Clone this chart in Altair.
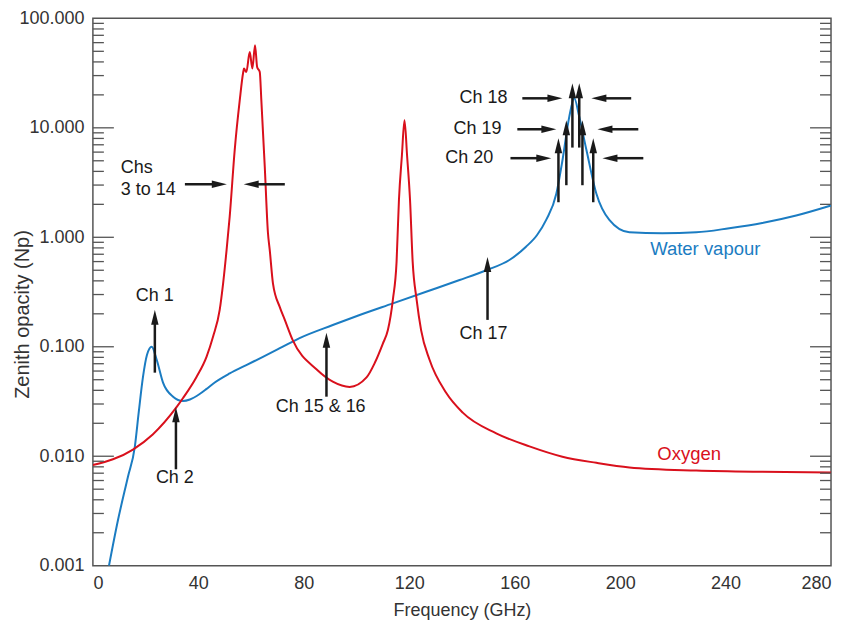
import altair as alt
import pandas as pd

# ---------------- data ----------------
wv_freq = [6.1, 9.5, 13.3, 15.9, 17.4, 19.0, 20.5, 22.3, 24.2, 26.6, 30.4, 34.2, 36.8,
           40.5, 43.0, 45.6, 51.9, 58.2, 64.5, 70.9, 78.4, 91.0, 101.2, 113.8, 126.4, 139.1,
           149.2, 158.0, 164.3, 168.5, 172.0, 175.8, 178.1, 180.7, 182.6, 184.5, 187.2,
           191.0, 195.9, 203.5, 216.0, 228.9, 241.4, 253.9, 266.8, 280.0]
wv_opacity = [0.0010, 0.0026, 0.0065, 0.0122, 0.0254, 0.053, 0.084, 0.100, 0.076, 0.047,
              0.035, 0.032, 0.033, 0.037, 0.041, 0.046, 0.057, 0.068, 0.081, 0.097, 0.120,
              0.158, 0.195, 0.249, 0.318, 0.407, 0.50, 0.62, 0.82, 1.05, 1.45, 2.5, 5.0,
              12.6, 18.6, 12.6, 6.3, 2.5, 1.44, 1.11, 1.09, 1.11, 1.21, 1.35, 1.58, 1.95]

ox_freq = [0.0, 15.2, 22.7, 31.8, 34.2, 39.3, 43.1, 45.6, 48.1, 49.4, 50.7, 51.9, 53.8,
           55.7, 57.0, 57.3, 58.2, 59.5, 60.5, 61.5, 62.3, 63.3, 63.9, 65.2, 66.4, 67.1,
           68.3, 70.9, 72.8, 75.8, 84.9, 91.0, 97.4, 103.8, 106.9, 110.0, 111.9, 113.8,
           115.2, 116.1, 117.2, 118.2, 119.2, 120.3, 121.3, 122.8, 124.5, 127.7, 134.0,
           140.3, 153.0, 165.6, 178.1, 191.0, 203.5, 228.9, 253.9, 280.0]
ox_opacity = [0.0083, 0.0115, 0.0158, 0.0282, 0.034, 0.053, 0.081, 0.124, 0.217, 0.38,
              0.76, 1.55, 6.3, 17.8, 32.0, 34.8, 32.3, 49.2, 34.8, 56.8, 36.0, 32.4, 17.8,
              4.4, 1.1, 0.76, 0.38, 0.23, 0.176, 0.115, 0.062, 0.048, 0.043, 0.0525, 0.071,
              0.107, 0.142, 0.27, 0.6, 2.2, 5.5, 11.7, 5.5, 2.2, 0.6, 0.27, 0.142, 0.076,
              0.038, 0.025, 0.0162, 0.0123, 0.0099, 0.0087, 0.0079, 0.0074, 0.0072, 0.0071]

# vertical (upward) arrows: frequency, tail opacity, tip opacity
up_x = [23.5, 31.5, 88.6, 149.7, 176.6, 179.6, 181.9, 184.5, 185.7, 189.8]
up_tail = [0.058, 0.0076, 0.035, 0.176, 2.09, 2.99, 6.6, 6.6, 2.99, 2.09]
up_tip = [0.218, 0.028, 0.134, 0.66, 8.04, 11.7, 25.5, 25.5, 11.7, 8.04]

# horizontal arrows pointing right: opacity level, tail freq, tip freq
right_y = [3.05, 18.6, 9.7, 5.28]
right_tail = [34.9, 162.9, 161.0, 158.4]
right_tip = [50.8, 178.1, 175.8, 173.9]
# horizontal arrows pointing left
left_y = [3.05, 18.6, 9.7, 5.28]
left_tail = [72.8, 204.2, 206.9, 208.8]
left_tip = [57.2, 189.1, 191.4, 193.3]

# annotation labels
center_text = ["Ch 1", "Ch 2", "Ch 15 & 16", "Ch 17"]
center_x = [23.5, 31.1, 86.4, 148.2]
center_y = [0.291, 0.00635, 0.0282, 0.131]
left_text = ["Chs", "3 to 14"]
left_x = [10.6, 10.6]
left_yv = [4.28, 2.70]
right_text = ["Ch 18", "Ch 19", "Ch 20"]
right_x = [157.3, 155.0, 151.9]
right_yv = [18.6, 9.7, 5.28]

major_ticks = [0.01, 0.1, 1, 10]
minor_ticks = [k * 10.0 ** d for d in range(-3, 2) for k in range(2, 10)]
x_labels = [0, 40, 80, 120, 160, 200, 240, 280]
y_labels = [0.001, 0.01, 0.1, 1, 10, 100]

# ---------------- chart ----------------
W, H = 739, 548
BLUE = "#1b7cc2"
RED = "#d9101c"
INK = "#1a1a1a"
FONT = "Liberation Sans"

xs = alt.Scale(domain=[0, 280], nice=False, zero=False)
ys = alt.Scale(type="log", domain=[0.001, 100], nice=False)

x_axis = alt.Axis(
    values=x_labels, ticks=False, domain=False, grid=False, labelFontSize=18,
    labelColor="#333", labelPadding=9, labelFont=FONT,
    title="Frequency (GHz)", titleFont=FONT, titleFontSize=18, titleFontWeight="normal",
    titleColor="#333", titleY=36, titleBaseline="top")
y_axis = alt.Axis(
    values=y_labels, format=".3f", ticks=False, domain=False,
    grid=False, labelFontSize=18, labelColor="#333", labelPadding=9, labelFont=FONT,
    title="Zenith opacity (Np)", titleFont=FONT, titleFontSize=20, titleFontWeight="normal",
    titleColor="#333", titleAngle=-90, titleX=-80, titleY=H / 2 + 22,
    titleAlign="center", titleBaseline="top")


def X(field):
    return alt.X(field, scale=xs, axis=x_axis)


def Y(field):
    return alt.Y(field, scale=ys, axis=y_axis)


water = pd.DataFrame({"f": wv_freq, "o": wv_opacity})
oxy = pd.DataFrame({"f": ox_freq, "o": ox_opacity})

water_line = alt.Chart(water).mark_line(color=BLUE, strokeWidth=2, interpolate="monotone",
                                        clip=True).encode(x=X("f:Q"), y=Y("o:Q"))
oxy_line = alt.Chart(oxy).mark_line(color=RED, strokeWidth=2, interpolate="monotone",
                                    clip=True).encode(x=X("f:Q"), y=Y("o:Q"))

# ticks inside the frame, left and right
maj = pd.DataFrame({"v": major_ticks})
mnr = pd.DataFrame({"v": minor_ticks})
tick_layers = []
for df, ln in ((maj, 21), (mnr, 11)):
    for x0, x1 in ((0, ln), (W - ln, W)):
        tick_layers.append(alt.Chart(df).mark_rule(color="#555", strokeWidth=1.3).encode(
            y=Y("v:Q"), x=alt.value(x0), x2=alt.value(x1)))

# arrows
up_df = pd.DataFrame({"x": up_x, "y0": up_tail, "y1": up_tip})
r_df = pd.DataFrame({"y": right_y, "x0": right_tail, "x1": right_tip})
l_df = pd.DataFrame({"y": left_y, "x0": left_tail, "x1": left_tip})

UP = "M0,0L0.5,2L-0.5,2Z"
RIGHT = "M0,0L-2,-0.5L-2,0.5Z"
LEFT = "M0,0L2,-0.5L2,0.5Z"
head_kw = dict(size=225, filled=True, color=INK, opacity=1, strokeWidth=0)

up_shaft = alt.Chart(up_df).mark_rule(color=INK, strokeWidth=2.5, y2Offset=10).encode(
    x=X("x:Q"), y=Y("y0:Q"), y2="y1:Q")
up_head = alt.Chart(up_df).mark_point(shape=UP, **head_kw).encode(x=X("x:Q"), y=Y("y1:Q"))
r_shaft = alt.Chart(r_df).mark_rule(color=INK, strokeWidth=2.5, x2Offset=-10).encode(
    y=Y("y:Q"), x=X("x0:Q"), x2="x1:Q")
r_head = alt.Chart(r_df).mark_point(shape=RIGHT, **head_kw).encode(y=Y("y:Q"), x=X("x1:Q"))
l_shaft = alt.Chart(l_df).mark_rule(color=INK, strokeWidth=2.5, x2Offset=10).encode(
    y=Y("y:Q"), x=X("x0:Q"), x2="x1:Q")
l_head = alt.Chart(l_df).mark_point(shape=LEFT, **head_kw).encode(y=Y("y:Q"), x=X("x1:Q"))


def text_layer(t, x, y, align, color=INK, size=18):
    df = pd.DataFrame({"t": t, "x": x, "y": y})
    return alt.Chart(df).mark_text(align=align, baseline="middle", font=FONT, fontSize=size,
                                   color=color).encode(x=X("x:Q"), y=Y("y:Q"), text="t:N")


txt_c = text_layer(center_text, center_x, center_y, "center")
txt_l = text_layer(left_text, left_x, left_yv, "left")
txt_r = text_layer(right_text, right_x, right_yv, "right")
lab_w = text_layer(["Water vapour"], [211.4], [0.78], "left", BLUE, 18.5)
lab_o = text_layer(["Oxygen"], [214.1], [0.0105], "left", RED, 18.5)

chart = alt.layer(
    water_line, oxy_line, *tick_layers,
    up_shaft, up_head, r_shaft, r_head, l_shaft, l_head,
    txt_c, txt_l, txt_r, lab_w, lab_o,
).properties(
    width=W, height=H,
    autosize=alt.AutoSizeParams(type="none"),
    padding={"left": 85, "top": 10, "right": 12, "bottom": 55},
    background="white",
).configure_view(
    stroke="#555", strokeWidth=1.5
)

chart.save("out.html", embed_options={"renderer": "svg", "actions": False})
